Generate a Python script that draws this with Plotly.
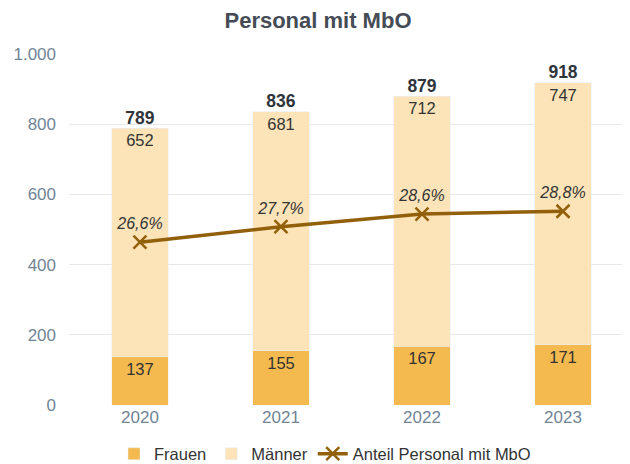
import plotly.graph_objects as go

years = ["2020", "2021", "2022", "2023"]
frauen = [137, 155, 167, 171]
maenner = [652, 681, 712, 747]
totals = [789, 836, 879, 918]
anteil = [26.6, 27.7, 28.6, 28.8]

FONT = "Liberation Sans, Arial, sans-serif"
W, H = 622, 456  # page body has an 8px margin

fig = go.Figure()
fig.add_trace(go.Bar(
    x=years, y=frauen, name="Frauen", marker_color="#F4BA4F",
    text=frauen, textposition="inside", insidetextanchor="end",
    textfont=dict(size=16.5, color="#333333", family=FONT), width=0.4,
))
fig.add_trace(go.Bar(
    x=years, y=maenner, name="Männer", marker_color="#FCE4B8",
    text=maenner, textposition="inside", insidetextanchor="end",
    textfont=dict(size=16.5, color="#333333", family=FONT), width=0.4,
))
fig.add_trace(go.Scatter(
    x=years, y=totals, mode="text", text=[f"<b>{t}</b>" for t in totals],
    textposition="top center", textfont=dict(size=17.5, color="#2f343b", family=FONT),
    showlegend=False, hoverinfo="skip", cliponaxis=False,
))
fig.add_trace(go.Scatter(
    x=years, y=anteil, name="Anteil Personal mit MbO", yaxis="y2",
    mode="lines+markers+text",
    line=dict(color="#92600A", width=3.5),
    marker=dict(symbol="x-thin", size=13, line=dict(color="#92600A", width=2.5)),
    texttemplate="<i>%{y:.1f}%</i>", textposition="top center",
    textfont=dict(size=16, color="#333333", family=FONT),
))

fig.update_layout(
    width=W, height=H,
    barmode="stack",
    separators=",.",
    paper_bgcolor="white", plot_bgcolor="white",
    font=dict(family=FONT),
    title=dict(text="<b>Personal mit MbO</b>", xref="container", x=(318 - 8) / W, xanchor="center",
               yref="container", y=1 - 12 / H, yanchor="middle",
               font=dict(size=22, color="#454c55", family=FONT)),
    margin=dict(l=61, r=0, t=46, b=59, autoexpand=False),
    xaxis=dict(showgrid=False, tickfont=dict(size=17, color="#718497"), ticks="",
               showline=False, range=[-0.503, 3.475], automargin=False),
    yaxis=dict(range=[0, 1000], dtick=200, tickformat=",d", gridcolor="#E8E8E8", gridwidth=1,
               tickfont=dict(size=17, color="#718497"), zeroline=False, ticks="",
               ticklabelstandoff=12, automargin=False),
    yaxis2=dict(range=[15, 40], overlaying="y", side="right", visible=False),
    legend=dict(orientation="h", xref="container", x=(325 - 8) / W, xanchor="center",
                yref="container", y=10 / H, yanchor="middle",
                font=dict(size=16.5, color="#333333", family=FONT), traceorder="normal",
                itemwidth=30, tracegroupgap=0),
    showlegend=True,
)

fig.write_html("out.html")
